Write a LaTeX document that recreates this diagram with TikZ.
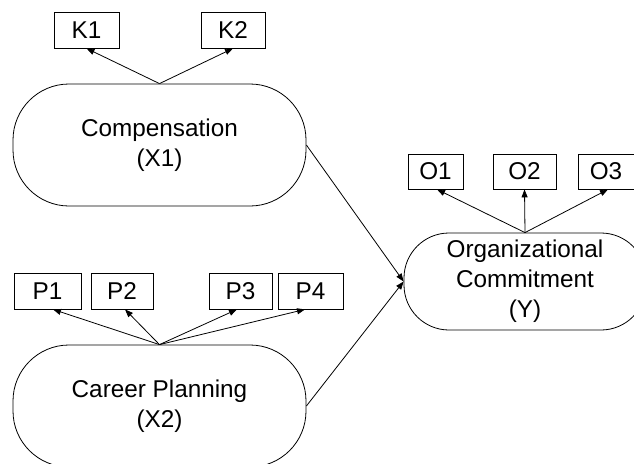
\documentclass[tikz,border=0pt]{standalone}
\usepackage{fontspec}
\setmainfont{Liberation Sans}
\usetikzlibrary{arrows.meta}
\begin{document}
\begin{tikzpicture}[x=1pt,y=-1pt,
  every node/.style={font=\fontsize{24.3}{30}\selectfont, inner sep=0pt, align=center},
  ind/.style={draw, line width=0.8pt, minimum height=36pt},
  latent/.style={draw, line width=0.8pt, rounded corners=56pt, minimum width=293pt, minimum height=122pt},
  arr/.style={line width=0.8pt, -{Triangle[length=8pt,width=6pt]}}]
\useasboundingbox (0,0) rectangle (634,463);
\clip (0,0) rectangle (634,463);
\fill[white] (0,0) rectangle (634,463);
% latent variables
\node[latent] (comp) at (159.5,145) {Compensation\\(X1)};
\node[latent] (career) at (159.5,406) {Career Planning\\(X2)};
\node[draw, line width=0.8pt, rounded corners=45pt, minimum width=242pt, minimum height=97pt] (y) at (525,281.5) {Organizational\\Commitment\\(Y)};
% indicators
\node[ind, minimum width=65pt] (k1) at (86.5,30) {K1};
\node[ind, minimum width=64pt] (k2) at (233,30) {K2};
\node[ind, minimum width=55pt, minimum height=35pt] (o1) at (435.5,171.5) {O1};
\node[ind, minimum width=63pt, minimum height=35pt] (o2) at (524.5,171.5) {O2};
\node[ind, minimum width=56pt, minimum height=35pt] (o3) at (606,171.5) {O3};
\node[ind, minimum width=67pt] (p1) at (47.5,291) {P1};
\node[ind, minimum width=62pt] (p2) at (122,291) {P2};
\node[ind, minimum width=63pt] (p3) at (240.5,291) {P3};
\node[ind, minimum width=65pt] (p4) at (310.5,291) {P4};
% connectors
\draw[arr] (comp.north) -- (k1.south);
\draw[arr] (comp.north) -- (k2.south);
\draw[arr] (y.north) -- ([xshift=1.5pt]o1.south);
\draw[arr] (y.north) -- (o2.south);
\draw[arr] (y.north) -- ([xshift=2pt]o3.south);
\draw[arr] (career.north) -- ([xshift=5.5pt]p1.south);
\draw[arr] (career.north) -- ([xshift=3pt]p2.south);
\draw[arr] (career.north) -- ([xshift=-3.5pt]p3.south);
\draw[arr] (career.north) -- ([xshift=-5.5pt]p4.south);
\draw[arr] (comp.east) -- (y.west);
\draw[arr] (career.east) -- (y.west);
\end{tikzpicture}
\end{document}
